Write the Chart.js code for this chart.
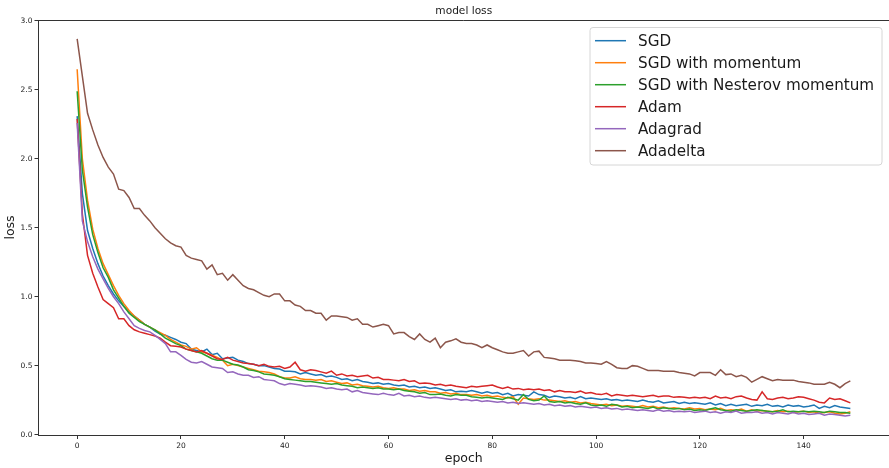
<!DOCTYPE html>
<html>
<head>
<meta charset="utf-8">
<script src="https://cdn.jsdelivr.net/npm/chart.js@4.4.1/dist/chart.umd.min.js"></script>
<style>
  html, body { margin: 0; padding: 0; background: #fff; overflow: hidden; }
  #wrap { width: 889px; height: 468px; position: relative; }
</style>
</head>
<body>
<div id="wrap"><canvas id="c" width="889" height="468"></canvas></div>
<script>
// Training loss per epoch for six optimizers
const seriesNames = ['SGD', 'SGD with momentum', 'SGD with Nesterov momentum', 'Adam', 'Adagrad', 'Adadelta'];
const seriesColors = ['#1f77b4', '#ff7f0e', '#2ca02c', '#d62728', '#9467bd', '#8c564b'];
const xTicks = [0, 20, 40, 60, 80, 100, 120, 140];
const yTicks = [0.0, 0.5, 1.0, 1.5, 2.0, 2.5, 3.0];

const sgd = [
  2.31, 1.75, 1.48, 1.35, 1.24, 1.15, 1.08, 1.02, 0.97, 0.93,
  0.89, 0.86, 0.83, 0.80, 0.78, 0.75, 0.73, 0.72, 0.705, 0.69,
  0.67, 0.66, 0.62, 0.61, 0.60, 0.62, 0.58, 0.59, 0.55, 0.555,
  0.56, 0.54, 0.53, 0.515, 0.51, 0.50, 0.50, 0.49, 0.48, 0.475,
  0.46, 0.46, 0.455, 0.44, 0.45, 0.44, 0.43, 0.435, 0.42, 0.425,
  0.415, 0.40, 0.405, 0.39, 0.40, 0.385, 0.38, 0.37, 0.375, 0.365,
  0.37, 0.36, 0.355, 0.36, 0.345, 0.35, 0.34, 0.345, 0.335, 0.34,
  0.33, 0.32, 0.325, 0.31, 0.315, 0.31, 0.32, 0.31, 0.30, 0.31,
  0.30, 0.305, 0.29, 0.30, 0.28, 0.29, 0.285, 0.28, 0.31, 0.29,
  0.285, 0.27, 0.28, 0.275, 0.265, 0.27, 0.26, 0.275, 0.26, 0.265,
  0.26, 0.255, 0.26, 0.25, 0.255, 0.245, 0.25, 0.245, 0.24, 0.25,
  0.24, 0.235, 0.245, 0.23, 0.235, 0.24, 0.225, 0.235, 0.225, 0.23,
  0.225, 0.22, 0.23, 0.215, 0.225, 0.21, 0.22, 0.21, 0.215, 0.22,
  0.205, 0.215, 0.21, 0.22, 0.205, 0.21, 0.20, 0.215, 0.205, 0.21,
  0.20, 0.205, 0.215, 0.19, 0.205, 0.195, 0.21, 0.20, 0.195, 0.19
];

const sgdMomentum = [
  2.65, 2.00, 1.70, 1.49, 1.35, 1.24, 1.16, 1.08, 1.01, 0.95,
  0.90, 0.86, 0.83, 0.80, 0.78, 0.76, 0.74, 0.72, 0.69, 0.67,
  0.65, 0.64, 0.62, 0.63, 0.60, 0.59, 0.575, 0.56, 0.54, 0.50,
  0.51, 0.50, 0.49, 0.48, 0.47, 0.46, 0.455, 0.45, 0.44, 0.42,
  0.41, 0.41, 0.42, 0.405, 0.40, 0.40, 0.395, 0.40, 0.385, 0.39,
  0.38, 0.37, 0.375, 0.36, 0.365, 0.355, 0.35, 0.345, 0.35, 0.34,
  0.335, 0.34, 0.33, 0.33, 0.32, 0.325, 0.315, 0.32, 0.31, 0.31,
  0.30, 0.305, 0.295, 0.30, 0.29, 0.29, 0.285, 0.29, 0.28, 0.285,
  0.275, 0.28, 0.27, 0.265, 0.275, 0.22, 0.265, 0.26, 0.255, 0.26,
  0.25, 0.25, 0.245, 0.24, 0.245, 0.235, 0.24, 0.23, 0.235, 0.225,
  0.22, 0.215, 0.22, 0.21, 0.215, 0.205, 0.21, 0.205, 0.20, 0.21,
  0.20, 0.205, 0.195, 0.20, 0.19, 0.195, 0.19, 0.185, 0.195, 0.185,
  0.19, 0.18, 0.185, 0.18, 0.19, 0.175, 0.18, 0.175, 0.185, 0.17,
  0.18, 0.17, 0.175, 0.17, 0.165, 0.175, 0.165, 0.17, 0.16, 0.165,
  0.17, 0.16, 0.165, 0.155, 0.16, 0.165, 0.155, 0.15, 0.155, 0.165
];

const sgdNesterov = [
  2.49, 1.92, 1.65, 1.45, 1.32, 1.21, 1.14, 1.05, 0.99, 0.93,
  0.88, 0.85, 0.82, 0.80, 0.78, 0.76, 0.73, 0.70, 0.68, 0.66,
  0.645, 0.62, 0.61, 0.60, 0.59, 0.57, 0.55, 0.54, 0.54, 0.525,
  0.51, 0.505, 0.49, 0.47, 0.465, 0.455, 0.44, 0.435, 0.43, 0.42,
  0.405, 0.40, 0.395, 0.39, 0.385, 0.385, 0.38, 0.375, 0.37, 0.365,
  0.37, 0.36, 0.355, 0.35, 0.34, 0.345, 0.34, 0.335, 0.34, 0.33,
  0.33, 0.325, 0.33, 0.32, 0.315, 0.31, 0.30, 0.305, 0.29, 0.29,
  0.295, 0.285, 0.28, 0.29, 0.285, 0.285, 0.275, 0.27, 0.265, 0.27,
  0.265, 0.26, 0.255, 0.27, 0.26, 0.25, 0.29, 0.255, 0.245, 0.25,
  0.28, 0.24, 0.235, 0.24, 0.23, 0.235, 0.225, 0.22, 0.23, 0.215,
  0.21, 0.215, 0.205, 0.22, 0.215, 0.20, 0.205, 0.195, 0.20, 0.195,
  0.19, 0.20, 0.185, 0.195, 0.19, 0.185, 0.19, 0.18, 0.185, 0.175,
  0.18, 0.175, 0.185, 0.195, 0.18, 0.175, 0.17, 0.18, 0.175, 0.17,
  0.175, 0.18, 0.175, 0.17, 0.165, 0.17, 0.18, 0.165, 0.17, 0.165,
  0.17, 0.165, 0.17, 0.165, 0.16, 0.17, 0.165, 0.16, 0.16, 0.155
];

const adam = [
  2.29, 1.60, 1.30, 1.17, 1.07, 0.98, 0.95, 0.92, 0.84, 0.84,
  0.79, 0.76, 0.745, 0.735, 0.725, 0.715, 0.70, 0.67, 0.645, 0.64,
  0.635, 0.62, 0.61, 0.60, 0.61, 0.59, 0.57, 0.55, 0.545, 0.56,
  0.54, 0.53, 0.52, 0.515, 0.51, 0.50, 0.51, 0.495, 0.49, 0.495,
  0.48, 0.49, 0.525, 0.47, 0.46, 0.47, 0.465, 0.455, 0.445, 0.46,
  0.43, 0.44, 0.425, 0.43, 0.42, 0.425, 0.43, 0.41, 0.415, 0.40,
  0.40, 0.395, 0.39, 0.40, 0.385, 0.39, 0.37, 0.375, 0.37, 0.36,
  0.365, 0.355, 0.36, 0.35, 0.345, 0.34, 0.35, 0.345, 0.35, 0.355,
  0.36, 0.345, 0.335, 0.345, 0.33, 0.335, 0.325, 0.33, 0.325, 0.33,
  0.32, 0.325, 0.31, 0.32, 0.31, 0.31, 0.305, 0.315, 0.30, 0.305,
  0.295, 0.29, 0.30, 0.28, 0.29, 0.285, 0.28, 0.285, 0.28, 0.275,
  0.28, 0.285, 0.275, 0.28, 0.28, 0.27, 0.275, 0.27, 0.265, 0.27,
  0.265, 0.27, 0.26, 0.28, 0.265, 0.27, 0.26, 0.275, 0.28, 0.265,
  0.255, 0.25, 0.31, 0.26, 0.255, 0.265, 0.27, 0.26, 0.265, 0.275,
  0.27, 0.26, 0.25, 0.235, 0.23, 0.265, 0.255, 0.26, 0.245, 0.23
];

const adagrad = [
  2.26, 1.55, 1.40, 1.29, 1.20, 1.13, 1.06, 1.00, 0.95, 0.89,
  0.84, 0.79, 0.77, 0.755, 0.745, 0.72, 0.69, 0.66, 0.60, 0.60,
  0.575, 0.545, 0.525, 0.52, 0.53, 0.51, 0.49, 0.485, 0.48, 0.45,
  0.455, 0.44, 0.43, 0.43, 0.415, 0.42, 0.40, 0.395, 0.39, 0.37,
  0.36, 0.37, 0.365, 0.36, 0.35, 0.355, 0.35, 0.345, 0.335, 0.34,
  0.33, 0.325, 0.33, 0.31, 0.32, 0.305, 0.30, 0.295, 0.29, 0.30,
  0.29, 0.285, 0.30, 0.28, 0.285, 0.275, 0.28, 0.27, 0.265, 0.27,
  0.265, 0.26, 0.255, 0.26, 0.25, 0.255, 0.245, 0.25, 0.24, 0.245,
  0.24, 0.235, 0.24, 0.23, 0.235, 0.225, 0.23, 0.225, 0.22, 0.225,
  0.215, 0.22, 0.21, 0.215, 0.205, 0.21, 0.20, 0.205, 0.20, 0.195,
  0.20, 0.19, 0.195, 0.185, 0.19, 0.18, 0.185, 0.18, 0.175, 0.18,
  0.175, 0.17, 0.18, 0.17, 0.175, 0.165, 0.17, 0.165, 0.17, 0.16,
  0.165, 0.17, 0.16, 0.165, 0.155, 0.165, 0.16, 0.17, 0.155, 0.16,
  0.16, 0.165, 0.155, 0.16, 0.15, 0.16, 0.155, 0.15, 0.16, 0.15,
  0.155, 0.145, 0.15, 0.155, 0.14, 0.15, 0.145, 0.14, 0.135, 0.14
];

const adadelta = [
  2.87, 2.60, 2.33, 2.21, 2.10, 2.01, 1.94, 1.89, 1.78, 1.77,
  1.72, 1.64, 1.64, 1.59, 1.55, 1.50, 1.46, 1.42, 1.39, 1.37,
  1.36, 1.30, 1.28, 1.27, 1.26, 1.20, 1.23, 1.16, 1.17, 1.12,
  1.16, 1.12, 1.08, 1.06, 1.05, 1.03, 1.01, 1.00, 1.02, 1.02,
  0.97, 0.97, 0.94, 0.93, 0.90, 0.90, 0.88, 0.88, 0.83, 0.86,
  0.86, 0.855, 0.85, 0.83, 0.84, 0.80, 0.80, 0.78, 0.79, 0.80,
  0.79, 0.73, 0.74, 0.74, 0.71, 0.69, 0.73, 0.69, 0.67, 0.70,
  0.63, 0.67, 0.68, 0.695, 0.67, 0.66, 0.66, 0.65, 0.63, 0.65,
  0.63, 0.615, 0.60, 0.59, 0.59, 0.60, 0.61, 0.57, 0.60, 0.605,
  0.56, 0.555, 0.55, 0.54, 0.54, 0.54, 0.535, 0.53, 0.52, 0.52,
  0.515, 0.51, 0.53, 0.51, 0.485, 0.48, 0.48, 0.50, 0.495, 0.48,
  0.465, 0.465, 0.465, 0.46, 0.46, 0.46, 0.45, 0.445, 0.44, 0.425,
  0.45, 0.45, 0.45, 0.43, 0.47, 0.435, 0.44, 0.42, 0.43, 0.415,
  0.38, 0.40, 0.42, 0.405, 0.39, 0.40, 0.395, 0.395, 0.395, 0.385,
  0.38, 0.375, 0.365, 0.365, 0.365, 0.38, 0.365, 0.34, 0.37, 0.39
];

const seriesValues = [sgd, sgdMomentum, sgdNesterov, adam, adagrad, adadelta];
const epochs = sgd.map((_, i) => i);

const FONT = "'DejaVu Sans', 'Liberation Sans', sans-serif";
const INK = '#1a1a1a';
const SPINE = '#333333';

const datasets = seriesValues.map((vals, i) => ({
  label: seriesNames[i],
  data: epochs.map((e, k) => ({ x: e, y: vals[k] })),
  borderColor: seriesColors[i],
  backgroundColor: seriesColors[i],
  borderWidth: 1.5,
  pointRadius: 0,
  fill: false,
  tension: 0,
  // later series are painted over earlier ones
  order: seriesNames.length - 1 - i
}));

// Title, upper spine and the framed legend box
const decorations = {
  id: 'decorations',
  afterDatasetsDraw(chart) {
    const { ctx, chartArea: a } = chart;
    ctx.save();
    ctx.strokeStyle = SPINE;
    ctx.lineWidth = 1;
    ctx.beginPath();
    ctx.moveTo(a.left, a.top + 0.5);
    ctx.lineTo(a.right, a.top + 0.5);
    ctx.stroke();
    ctx.restore();
  },
  afterDraw(chart) {
    const { ctx, chartArea: a } = chart;
    ctx.save();
    // title
    ctx.fillStyle = INK;
    ctx.font = `10.6px ${FONT}`;
    ctx.textAlign = 'center';
    ctx.textBaseline = 'middle';
    ctx.fillText('model loss', (a.left + a.right) / 2, 11);

    // legend frame
    const bx = 590, by = 27.5, bw = 292, bh = 137.5, r = 3;
    ctx.beginPath();
    ctx.moveTo(bx + r, by);
    ctx.lineTo(bx + bw - r, by);
    ctx.arcTo(bx + bw, by, bx + bw, by + r, r);
    ctx.lineTo(bx + bw, by + bh - r);
    ctx.arcTo(bx + bw, by + bh, bx + bw - r, by + bh, r);
    ctx.lineTo(bx + r, by + bh);
    ctx.arcTo(bx, by + bh, bx, by + bh - r, r);
    ctx.lineTo(bx, by + r);
    ctx.arcTo(bx, by, bx + r, by, r);
    ctx.closePath();
    ctx.fillStyle = 'rgba(255,255,255,0.8)';
    ctx.fill();
    ctx.strokeStyle = '#d6d6d6';
    ctx.lineWidth = 1;
    ctx.stroke();

    // legend entries
    ctx.font = `15.2px ${FONT}`;
    ctx.textAlign = 'left';
    ctx.textBaseline = 'middle';
    seriesNames.forEach((name, i) => {
      const y = 40.7 + i * 22;
      ctx.strokeStyle = seriesColors[i];
      ctx.lineWidth = 1.5;
      ctx.beginPath();
      ctx.moveTo(595, y);
      ctx.lineTo(626, y);
      ctx.stroke();
      ctx.fillStyle = INK;
      ctx.fillText(name, 638, y + 1);
    });
    ctx.restore();
  }
};

new Chart(document.getElementById('c'), {
  type: 'line',
  data: { datasets },
  options: {
    responsive: false,
    animation: false,
    devicePixelRatio: 1,
    layout: { padding: { top: 20, right: 0, bottom: 0, left: 0 } },
    plugins: {
      legend: { display: false },
      tooltip: { enabled: false },
      title: { display: false }
    },
    scales: {
      x: {
        type: 'linear',
        min: -7.45,
        max: 156.45,
        afterBuildTicks: s => { s.ticks = xTicks.map(v => ({ value: v })); },
        afterFit: s => { s.height = 33; },
        ticks: {
          font: { family: FONT, size: 7.5 },
          color: INK,
          padding: 3,
          maxRotation: 0,
          autoSkip: false,
          callback: v => String(v)
        },
        grid: { drawOnChartArea: false, drawTicks: true, tickLength: 4, color: SPINE },
        border: { display: true, color: SPINE, width: 1 },
        title: {
          display: true,
          text: 'epoch',
          color: INK,
          font: { family: FONT, size: 12.5 },
          padding: { top: 0, bottom: 2 }
        }
      },
      y: {
        type: 'linear',
        min: -0.003,
        max: 3.007,
        afterBuildTicks: s => { s.ticks = yTicks.map(v => ({ value: v })); },
        afterFit: s => { s.width = 38.5; },
        ticks: {
          font: { family: FONT, size: 7.5 },
          color: INK,
          padding: 2,
          autoSkip: false,
          callback: v => Number(v).toFixed(1)
        },
        grid: { drawOnChartArea: false, drawTicks: true, tickLength: 4, color: SPINE },
        border: { display: true, color: SPINE, width: 1 },
        title: {
          display: true,
          text: 'loss',
          color: INK,
          font: { family: FONT, size: 12.5 },
          padding: { top: 3.5, bottom: 0 }
        }
      }
    }
  },
  plugins: [decorations]
});
</script>
</body>
</html>
